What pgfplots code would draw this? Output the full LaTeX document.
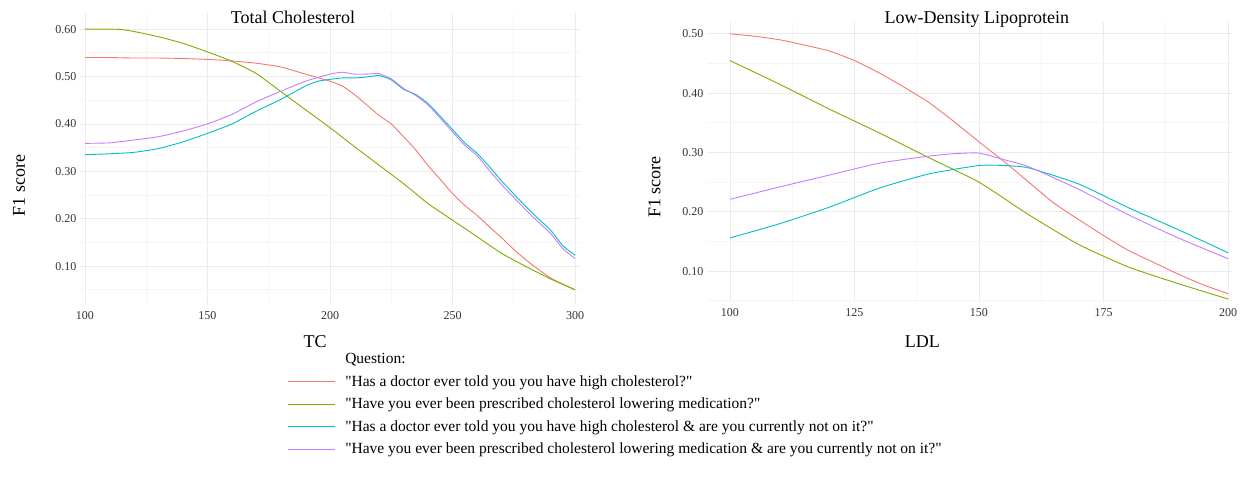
\documentclass[border=0pt]{standalone}
\usepackage{fontspec}
\setmainfont{Liberation Serif}[Ligatures=TeXOff]
\usepackage{pgfplots}
\pgfplotsset{compat=1.18}

\definecolor{cRed}{HTML}{F8766D}
\definecolor{cGreen}{HTML}{7CAE00}
\definecolor{cBlue}{HTML}{00BFC4}
\definecolor{cPurple}{HTML}{C77CFF}
\definecolor{gMaj}{HTML}{EBEBEB}
\definecolor{gMin}{HTML}{F5F5F5}

\pgfplotsset{
  ggmin/.style={
    scale only axis,
    axis line style={draw=none},
    major tick length=0pt, minor tick length=0pt,
    grid=both,
    major grid style={gMaj, line width=0.8pt},
    minor grid style={gMin, line width=0.7pt},
    tick label style={font=\fontsize{12}{14}\selectfont, text=black!80},
    xticklabel style={yshift=-3pt},
    /pgf/number format/assume math mode=true,
    yticklabel={\pgfmathprintnumber[fixed,fixed zerofill,precision=2]{\tick}},
    label style={font=\fontsize{18}{21}\selectfont},
    title style={font=\fontsize{18}{21}\selectfont, anchor=center},
    every axis plot/.append style={line width=0.9pt, smooth, tension=0.35},
  }
}

\begin{document}
\begin{tikzpicture}
\useasboundingbox (0,0) rectangle (1246pt,489pt);

% Total Cholesterol
\begin{axis}[ggmin,
  at={(80pt,184pt)}, anchor=south west,
  width=500pt, height=292pt,
  xmin=98, xmax=302, ymin=0.018, ymax=0.634,
  xtick={100,150,200,250,300}, minor xtick={125,175,225,275},
  ytick={0.1,0.2,0.3,0.4,0.5,0.6}, minor ytick={0.05,0.15,0.25,0.35,0.45,0.55},
  title={Total Cholesterol},
  title style={at={(axis description cs:0.426,0.966)}},
  xlabel={TC}, xlabel style={at={(axis description cs:0.47,-0.127)}, anchor=center},
  ylabel={F1 score}, ylabel style={at={(axis description cs:-0.122,0.41)}, anchor=center},
  legend style={at={(axis description cs:0.414,-0.158)}, anchor=north west,
    draw=none, fill=none, font=\fontsize{15.5}{17}\selectfont,
    row sep=6.3pt, inner sep=0pt,
    /tikz/every odd column/.append style={column sep=8pt}},
  legend cell align=left,
  legend image code/.code={\draw[#1,line width=1.1pt] (0pt,0pt) -- (47pt,0pt);},
]
\addlegendimage{empty legend}
\addlegendentry{Question:}
\addplot[cRed] coordinates {
(100,0.540)(110,0.540)(120,0.539)(130,0.539)(140,0.538)(150,0.536)(160,0.533)
(170,0.528)(180,0.520)(190,0.505)(200,0.490)(205,0.480)(210,0.462)(215,0.440)
(220,0.418)(225,0.400)(230,0.373)(235,0.345)(240,0.312)(245,0.283)(250,0.253)
(255,0.228)(260,0.207)(265,0.183)(270,0.160)(275,0.135)(280,0.113)(285,0.093)
(290,0.075)(295,0.062)(300,0.050)};
\addlegendentry{"Has a doctor ever told you you have high cholesterol?"}
\addplot[cGreen] coordinates {
(100,0.600)(110,0.600)(115,0.599)(120,0.595)(130,0.584)(140,0.570)(150,0.552)
(160,0.532)(170,0.506)(180,0.468)(190,0.430)(200,0.392)(210,0.352)(220,0.313)
(230,0.274)(240,0.232)(250,0.197)(260,0.162)(270,0.127)(280,0.099)(290,0.073)
(300,0.050)};
\addlegendentry{"Have you ever been prescribed cholesterol lowering medication?"}
\addplot[cBlue] coordinates {
(100,0.335)(110,0.337)(120,0.340)(130,0.348)(140,0.362)(150,0.380)(160,0.400)
(170,0.427)(180,0.452)(190,0.480)(195,0.490)(200,0.494)(205,0.497)(210,0.497)
(215,0.499)(220,0.502)(225,0.493)(230,0.473)(235,0.462)(240,0.443)(245,0.416)
(250,0.388)(255,0.360)(260,0.338)(265,0.310)(270,0.280)(275,0.252)(280,0.225)
(285,0.200)(290,0.176)(295,0.143)(300,0.123)};
\addlegendentry{"Has a doctor ever told you you have high cholesterol \& are you currently not on it?"}
\addplot[cPurple] coordinates {
(100,0.359)(110,0.360)(120,0.366)(130,0.373)(140,0.385)(150,0.400)(160,0.420)
(170,0.447)(180,0.469)(190,0.490)(200,0.505)(205,0.509)(210,0.505)(215,0.505)
(220,0.506)(225,0.495)(230,0.475)(235,0.460)(240,0.440)(245,0.412)(250,0.383)
(255,0.355)(260,0.333)(265,0.302)(270,0.272)(275,0.245)(280,0.218)(285,0.193)
(290,0.169)(295,0.137)(300,0.116)};
\addlegendentry{"Have you ever been prescribed cholesterol lowering medication \& are you currently not on it?"}
\end{axis}

% Low-Density Lipoprotein
\begin{axis}[ggmin,
  at={(707pt,187pt)}, anchor=south west,
  width=525pt, height=280pt,
  xmin=95.4, xmax=200.8, ymin=0.048, ymax=0.52,
  xtick={100,125,150,175,200}, minor xtick={112.5,137.5,162.5,187.5},
  ytick={0.1,0.2,0.3,0.4,0.5}, minor ytick={0.05,0.15,0.25,0.35,0.45},
  title={Low-Density Lipoprotein},
  title style={at={(axis description cs:0.514,0.986)}},
  xlabel={LDL}, xlabel style={at={(axis description cs:0.41,-0.143)}, anchor=center},
  ylabel={F1 score}, ylabel style={at={(axis description cs:-0.10,0.41)}, anchor=center},
]
\addplot[cRed] coordinates {
(100,0.500)(105,0.496)(110,0.490)(115,0.481)(120,0.471)(125,0.455)(130,0.434)
(135,0.410)(140,0.384)(145,0.352)(150,0.318)(155,0.285)(160,0.250)(165,0.215)
(170,0.187)(175,0.160)(180,0.135)(185,0.115)(190,0.095)(195,0.077)(200,0.062)};
\addplot[cGreen] coordinates {
(100,0.455)(110,0.415)(120,0.373)(130,0.333)(140,0.291)(150,0.250)(160,0.195)
(170,0.145)(180,0.107)(190,0.079)(200,0.053)};
\addplot[cBlue] coordinates {
(100,0.156)(110,0.180)(120,0.208)(130,0.240)(140,0.264)(150,0.278)(155,0.278)
(160,0.274)(170,0.247)(180,0.207)(190,0.170)(200,0.131)};
\addplot[cPurple] coordinates {
(100,0.221)(110,0.242)(120,0.262)(130,0.282)(140,0.294)(145,0.298)(150,0.299)
(155,0.288)(160,0.276)(170,0.238)(180,0.195)(190,0.156)(200,0.121)};
\end{axis}
\end{tikzpicture}
\end{document}
